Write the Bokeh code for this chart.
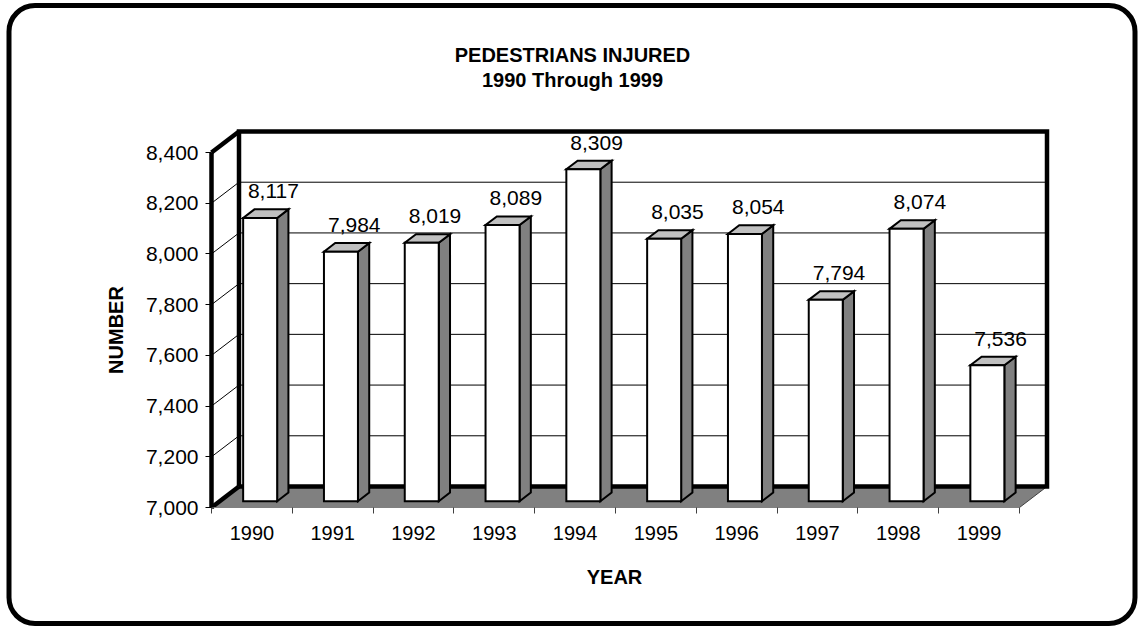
from bokeh.plotting import figure
from bokeh.models import FixedTicker, Label, BoxAnnotation, Range1d, ColumnDataSource
from bokeh.embed import file_html
from bokeh.resources import INLINE
from bokeh.core.properties import value

# ---------------- data ----------------
years = ["1990", "1991", "1992", "1993", "1994", "1995", "1996", "1997", "1998", "1999"]
injured = [8117, 7984, 8019, 8089, 8309, 8035, 8054, 7794, 8074, 7536]
value_labels = ["8,117", "7,984", "8,019", "8,089", "8,309", "8,035", "8,054", "7,794", "8,074", "7,536"]
y_ticks = [7000, 7200, 7400, 7600, 7800, 8000, 8200, 8400]
y_tick_labels = ["7,000", "7,200", "7,400", "7,600", "7,800", "8,000", "8,200", "8,400"]
title_lines = ["PEDESTRIANS INJURED", "1990 Through 1999"]
x_title = "YEAR"
y_title = "NUMBER"

# ---------------- geometry (canvas pixels) ----------------
W, H = 1139, 628
AX_L, AX_B = 211.0, 507.0   # pixel position of the front-left-bottom corner
CAT_PX = 80.8               # pixels per category
Y0, Y1 = y_ticks[0], y_ticks[-1]
AXIS_PX = 355.0             # pixels from Y0 to Y1
PPV = AXIS_PX / (Y1 - Y0)
N = len(years)
DX = 27.5 / CAT_PX          # depth offset in data units
DY = 21.0 / PPV
F1, F2 = 0.30, 0.71         # bar front / back depth fractions
BW = 34.0 / CAT_PX          # bar width
LABEL_GAP = 18.0 / PPV      # gap between bar top and its value label
LABEL_DX = 2.0 / CAT_PX

def cx(px):  # canvas x -> data x
    return (px - AX_L) / CAT_PX

def cy(py):  # canvas y -> data y
    return Y0 + (AX_B - py) / PPV

FONT = "Liberation Sans"
GREY = "#808080"
LIGHT = "#c0c0c0"

p = figure(width=W, height=H, output_backend="svg", toolbar_location=None,
           x_range=Range1d(cx(0), cx(W)), y_range=Range1d(cy(H), cy(0)),
           min_border_left=0, min_border_top=0, min_border_right=0, min_border_bottom=0)
p.outline_line_color = None
p.grid.visible = False
p.background_fill_color = "white"
p.border_fill_color = "white"

# ---- walls ----
p.patch([0, DX, DX, 0], [Y0, Y0 + DY, Y1 + DY, Y1], fill_color="white", line_color=None)
p.patch([DX, N + DX, N + DX, DX], [Y0 + DY, Y0 + DY, Y1 + DY, Y1 + DY], fill_color="white", line_color=None)

inner = y_ticks[1:-1]
p.segment(x0=[DX] * len(inner), y0=[v + DY for v in inner], x1=[N + DX] * len(inner),
          y1=[v + DY for v in inner], line_color="black", line_width=1)
p.segment(x0=[0] * len(inner), y0=inner, x1=[DX] * len(inner),
          y1=[v + DY for v in inner], line_color="black", line_width=1)

# ---- floor ----
p.patch([0, N, N + DX, DX], [Y0, Y0, Y0 + DY, Y0 + DY], fill_color=GREY, line_color=None)
p.segment(x0=[N], y0=[Y0], x1=[N + DX], y1=[Y0 + DY], line_color="#404040", line_width=1)

# ---- thick wall outlines ----
p.multi_line(xs=[[DX, DX, N + DX, N + DX, DX], [0, DX], [0, DX]],
             ys=[[Y0 + DY, Y1 + DY, Y1 + DY, Y0 + DY, Y0 + DY], [Y1, Y1 + DY], [Y0, Y0 + DY]],
             line_color="black", line_width=4.5, line_join="miter")

# ---- bars ----
lefts = [i + 0.5 - BW / 2 for i in range(N)]
rights = [i + 0.5 + BW / 2 for i in range(N)]
side = ColumnDataSource(dict(
    xs=[[r + F1 * DX, r + F2 * DX, r + F2 * DX, r + F1 * DX] for r in rights],
    ys=[[Y0 + F1 * DY, Y0 + F2 * DY, v + F2 * DY, v + F1 * DY] for v in injured]))
top = ColumnDataSource(dict(
    xs=[[l + F1 * DX, r + F1 * DX, r + F2 * DX, l + F2 * DX] for l, r in zip(lefts, rights)],
    ys=[[v + F1 * DY, v + F1 * DY, v + F2 * DY, v + F2 * DY] for v in injured]))
front = ColumnDataSource(dict(
    xs=[[l + F1 * DX, r + F1 * DX, r + F1 * DX, l + F1 * DX] for l, r in zip(lefts, rights)],
    ys=[[Y0 + F1 * DY, Y0 + F1 * DY, v + F1 * DY, v + F1 * DY] for v in injured]))
for src, col in ((side, GREY), (top, LIGHT), (front, "white")):
    p.patches("xs", "ys", source=src, fill_color=col, line_color="black",
              line_width=2, line_join="miter")

# ---- value labels ----
lab = ColumnDataSource(dict(x=[i + 0.5 + F2 * DX + LABEL_DX for i in range(N)],
                            y=[v + F2 * DY + LABEL_GAP for v in injured], t=value_labels))
p.text("x", "y", text="t", source=lab, text_font=value(FONT), text_font_size=value("21px"),
       text_align="center", text_baseline="alphabetic", text_color="black")

# ---- axes (placed on the front edges of the 3-D box) ----
xa = p.xaxis[0]
xa.fixed_location = Y0
xa.ticker = FixedTicker(ticks=[i + 0.5 for i in range(N)], minor_ticks=list(range(N + 1)))
xa.major_label_overrides = {i + 0.5: y for i, y in enumerate(years)}
xa.bounds = (0, N)
xa.axis_line_color = GREY
xa.axis_line_width = 1
xa.major_tick_line_color = None
xa.major_tick_out = 0
xa.major_tick_in = 0
xa.minor_tick_line_color = "#404040"
xa.minor_tick_out = 6
xa.minor_tick_in = 0
xa.major_label_standoff = 12
xa.major_label_text_font = FONT
xa.major_label_text_font_size = "20px"
xa.major_label_text_color = "black"

ya = p.yaxis[0]
ya.fixed_location = 0
ya.ticker = FixedTicker(ticks=y_ticks, minor_ticks=[])
ya.major_label_overrides = {t: s for t, s in zip(y_ticks, y_tick_labels)}
ya.bounds = (Y0, Y1)
ya.axis_line_color = "black"
ya.axis_line_width = 4.5
ya.major_tick_line_color = "black"
ya.major_tick_out = 6
ya.major_tick_in = 0
ya.minor_tick_line_color = None
ya.major_label_standoff = 7
ya.major_label_text_font = FONT
ya.major_label_text_font_size = "21px"
ya.major_label_text_color = "black"

# ---- titles ----
for txt, base in zip(title_lines, (54.3, 79.5)):
    p.add_layout(Label(x=cx(572), y=cy(base), text=txt, text_font=FONT, text_font_size="20px",
                       text_font_style="bold", text_align="center", text_baseline="alphabetic",
                       text_color="black"))
p.add_layout(Label(x=cx(614), y=cy(576), text=x_title, text_font=FONT, text_font_size="20px",
                   text_font_style="bold", text_align="center", text_baseline="alphabetic",
                   text_color="black"))
p.add_layout(Label(x=cx(115.5), y=(Y0 + Y1) / 2, text=y_title, text_font=FONT,
                   text_font_size="20px", text_font_style="bold", text_align="center",
                   text_baseline="middle", angle=1.5707963, text_color="black"))

# ---- rounded outer border ----
p.add_layout(BoxAnnotation(left=cx(8.5), right=cx(1134.5), top=cy(5.0), bottom=cy(623.0),
                           fill_alpha=0, fill_color=None, line_color="black", line_width=5,
                           line_alpha=1, border_radius=26))

open("out.html", "w").write(file_html(p, INLINE))
